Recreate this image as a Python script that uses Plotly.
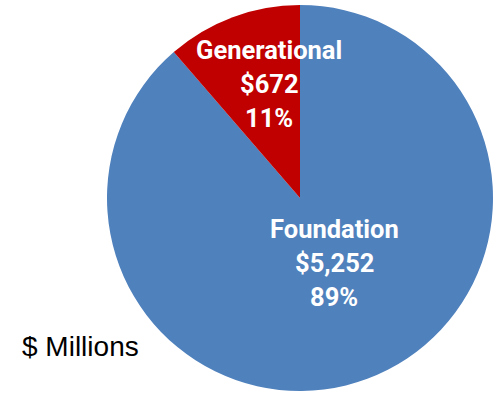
import plotly.graph_objects as go

categories = ["Generational", "Foundation"]
values = [672, 5252]
colors = ["#C00000", "#4F81BD"]

total = sum(values)
W, H = 496, 397

fig = go.Figure()
fig.add_trace(go.Pie(
    labels=categories[::-1],
    values=values[::-1],
    marker=dict(colors=colors[::-1], line=dict(width=0)),
    sort=False,
    direction="clockwise",
    rotation=0,
    textinfo="none",
    hoverinfo="label+value+percent",
    showlegend=False,
    domain=dict(x=[107 / W, 493 / W], y=[1 - 391 / H, 1 - 5 / H]),
))

# label centres (pixels) for each slice
label_pos = {"Generational": (269, 50), "Foundation": (334, 229)}
line_gap = 34
for cat, v in zip(categories, values):
    cx, cy = label_pos[cat]
    lines = [cat, f"${v:,}", f"{round(100 * v / total)}%"]
    for i, t in enumerate(lines):
        fig.add_annotation(
            x=cx / W, y=1 - (cy + i * line_gap) / H, xref="paper", yref="paper",
            text=f"<b>{t}</b>", showarrow=False, xanchor="center", yanchor="middle",
            font=dict(family="Roboto", size=25.5, color="white"),
        )

fig.add_annotation(
    x=80 / W, y=1 - 346 / H, xref="paper", yref="paper",
    text="$ Millions", showarrow=False, xanchor="center", yanchor="middle",
    font=dict(family="Liberation Sans", size=28, color="black"),
)

fig.update_layout(
    width=W, height=H,
    margin=dict(l=0, r=0, t=0, b=0),
    paper_bgcolor="white", plot_bgcolor="white",
)
fig.write_html("out.html")
